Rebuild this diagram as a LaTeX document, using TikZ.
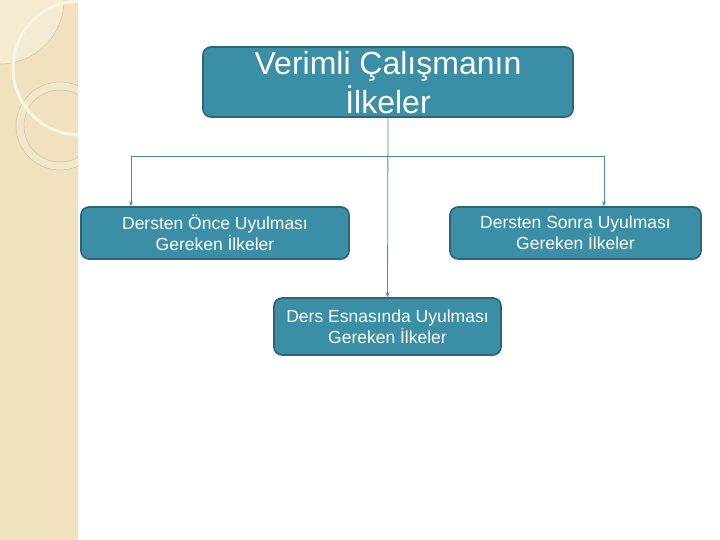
\documentclass[tikz,border=0pt]{standalone}
\usepackage{fontspec}
\setmainfont{Liberation Sans}
\usetikzlibrary{arrows.meta}
\definecolor{boxfill}{HTML}{3A8EA5}
\definecolor{boxline}{HTML}{2B6577}
\definecolor{conn}{HTML}{4D8C9F}
\definecolor{strip}{HTML}{F0E1BF}
\definecolor{striplight}{HTML}{F5EBD2}
\definecolor{ringline}{HTML}{D6C196}
\definecolor{arcwhite}{HTML}{FBF5E4}
\tikzset{
  box/.style={draw=boxline, line width=1.6pt, fill=boxfill, rounded corners=8pt,
    text=white, align=center, inner sep=0pt},
  label/.style={text=white, align=center, inner sep=0pt},
  conn/.style={draw=conn, line width=0.8pt},
  tip/.style={-{Stealth[length=5pt,width=4pt]}}
}
\begin{document}
\begin{tikzpicture}[x=1pt,y=-1pt]
\useasboundingbox (0,0) rectangle (720,540);
% left decorative strip
\begin{scope}
\clip (0,0) rectangle (78,540);
\fill[strip] (0,0) rectangle (78,540);
\fill[striplight] (0,0) circle (64);
\draw[ringline, line width=0.5pt] (0,0) circle (64);
\fill[striplight!60!strip, even odd rule] (60,126) circle (44) (60,126) circle (36);
\draw[ringline, line width=0.5pt] (60,126) circle (44);
\draw[ringline, line width=0.5pt] (60,126) circle (36);
\draw[arcwhite, line width=3pt] (80,68) circle (67);
\end{scope}
% nodes
\node[box, minimum width=370pt, minimum height=70pt] (top) at (388,82) {};
\node[label, anchor=north, font=\fontsize{32}{39}\selectfont] (toptext) at (388,51)
  {Verimli Çalışmanın\\İlkeler};
\node[box, minimum width=268pt, minimum height=52pt, font=\fontsize{17.5}{21}\selectfont]
  (left) at (215,233) {Dersten Önce Uyulması\\Gereken İlkeler};
\node[box, minimum width=251pt, minimum height=52pt, font=\fontsize{17.5}{21}\selectfont]
  (right) at (575.5,233) {Dersten Sonra Uyulması\\Gereken İlkeler};
\node[box, minimum width=227pt, minimum height=57pt, font=\fontsize{17.5}{21}\selectfont]
  (mid) at (387.5,326.5) {Ders Esnasında Uyulması\\Gereken İlkeler};
% connectors
\coordinate (hl) at (131,156);
\coordinate (hr) at (604,156);
\draw[conn] (hl) -- (hr);
\draw[conn, tip] (top.south) -- (mid.north);
\draw[conn, tip] (hl) -- (hl |- left.north);
\draw[conn, tip] (hr) -- (hr |- right.north);
\end{tikzpicture}
\end{document}
